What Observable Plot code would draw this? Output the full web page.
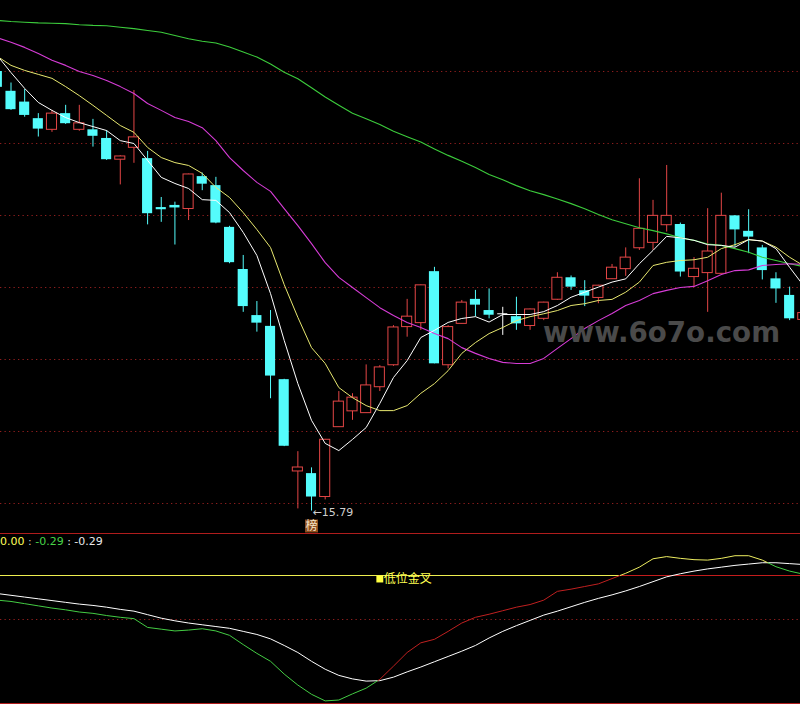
<!DOCTYPE html>
<html><head><meta charset="utf-8">
<script src="https://cdn.jsdelivr.net/npm/d3@7"></script>
<script src="https://cdn.jsdelivr.net/npm/@observablehq/plot@0.6"></script>
<style>
html,body{margin:0;padding:0;background:#000;}
#wrap{position:relative;width:800px;height:704px;background:#000;overflow:hidden;}
#lower{border-top:1px solid #b01c1c;border-bottom:1px solid #b01c1c;height:169px;}
#readout{position:absolute;left:0;top:535px;font:11px "DejaVu Sans",sans-serif;line-height:13px;white-space:pre;color:#e8e8e8;}
#wm{position:absolute;left:0;top:0;pointer-events:none;}
svg{display:block;}
</style></head>
<body><div id="wrap"><div id="main"></div><div id="lower"></div>
<div id="readout"><span style="color:#ffff58">0.00</span><span style="color:#c8c8c8"> : </span><span style="color:#48d448">-0.29</span><span style="color:#e8e8e8"> : -0.29</span></div>
<svg id="wm" width="800" height="704"><text x="543" y="342" font-family="DejaVu Sans" font-weight="bold" font-size="28" fill="#4a4a4a" textLength="237" lengthAdjust="spacingAndGlyphs">www.6o7o.com</text></svg>
</div>
<script>
// ---- price data (one entry per trading day) ----
const open  = [28.00,27.45,27.15,26.69,26.38,26.83,26.38,26.38,26.14,25.55,
               25.88,25.58,24.22,24.28,24.18,25.08,24.83,23.67,22.50,21.22,
               20.92,19.44,16.89,16.83,16.18,18.12,18.56,18.51,19.23,19.84,
               20.90,21.01,22.44,19.84,20.99,21.67,21.36,21.27,21.19,20.93,
               21.13,21.66,22.27,21.91,21.71,22.23,22.51,23.09,23.24,23.73,
               23.75,22.29,22.40,22.38,23.99,23.56,23.10,22.24,21.78,21.10];
const high  = [28.14,27.68,27.50,26.83,26.92,27.06,27.06,26.67,26.36,25.66,
               27.47,25.78,24.50,24.37,25.15,25.18,25.06,23.70,22.89,21.61,
               21.36,19.45,17.44,16.99,17.78,19.11,19.05,19.85,19.83,20.94,
               21.67,22.07,22.56,20.94,21.64,21.92,21.96,21.45,21.73,21.40,
               21.59,22.41,22.32,22.19,22.06,22.64,23.10,25.02,24.42,25.39,
               23.79,22.83,24.19,24.62,24.00,24.16,23.17,22.41,22.01,21.30];
const low   = [27.53,26.92,26.73,26.18,26.31,26.53,26.34,25.90,25.53,24.85,
               25.45,23.74,23.81,23.18,23.86,24.69,23.77,22.66,21.31,20.76,
               18.91,17.58,15.85,15.79,16.10,18.12,18.31,18.51,19.11,19.81,
               20.62,20.81,19.88,19.74,20.99,21.18,21.13,20.67,20.81,20.81,
               21.08,21.64,21.92,21.47,21.55,22.23,22.31,23.03,23.03,23.54,
               22.29,22.01,21.31,22.38,23.12,22.94,22.21,21.56,21.08,21.08];
const close = [27.56,26.94,26.78,26.40,26.83,26.55,26.56,26.20,25.55,25.64,
               26.17,24.05,24.16,24.21,25.14,24.87,23.79,22.69,21.47,21.01,
               19.54,17.59,17.00,16.18,17.77,18.83,18.94,19.28,19.78,20.89,
               21.19,22.06,19.88,20.90,21.58,21.51,21.23,21.27,20.99,21.39,
               21.58,22.27,22.01,21.76,22.05,22.55,22.83,23.63,23.99,23.99,
               22.43,22.52,23.00,23.99,23.60,23.40,22.47,21.96,21.13,21.29];
// ---- moving averages ----
const ma5  = [28.44,27.97,27.53,27.14,26.92,26.72,26.58,26.47,26.36,26.08,
              26.00,25.53,25.06,24.89,24.75,24.44,24.42,24.08,23.53,22.89,
              21.83,20.53,19.33,18.31,17.67,17.47,17.78,18.11,18.78,19.50,
              19.97,20.61,20.81,21.03,21.14,21.19,21.04,21.25,21.25,21.25,
              21.33,21.50,21.73,21.87,22.01,22.15,22.24,22.66,23.03,23.42,
              23.38,23.31,23.19,23.17,23.12,23.33,23.29,23.08,22.56,22.06];
const ma10 = [28.42,28.17,28.03,27.92,27.81,27.58,27.33,27.06,26.78,26.50,
              26.31,25.89,25.61,25.47,25.39,25.17,24.78,24.50,24.08,23.61,
              23.11,22.08,21.17,20.33,19.89,19.22,18.94,18.72,18.58,18.58,
              18.72,19.06,19.33,19.69,20.17,20.47,20.72,20.89,21.08,21.19,
              21.27,21.36,21.50,21.55,21.64,21.67,21.87,22.15,22.61,22.70,
              22.75,22.77,22.84,23.08,23.19,23.33,23.29,23.12,22.84,22.61];
const ma20 = [28.94,28.81,28.67,28.50,28.31,28.17,28.00,27.89,27.75,27.58,
              27.39,27.11,26.92,26.72,26.61,26.44,26.08,25.61,25.25,24.92,
              24.67,24.19,23.72,23.22,22.69,22.28,22.00,21.72,21.44,21.22,
              21.03,20.89,20.72,20.58,20.33,20.17,20.03,19.92,19.89,19.89,
              20.03,20.31,20.58,20.86,21.08,21.28,21.50,21.64,21.83,21.92,
              22.00,22.03,22.19,22.36,22.47,22.49,22.61,22.64,22.66,22.64];
const ma60 = [29.42,29.39,29.37,29.35,29.34,29.33,29.30,29.28,29.27,29.23,
              29.19,29.14,29.09,29.00,28.91,28.84,28.79,28.68,28.54,28.40,
              28.21,27.98,27.80,27.55,27.29,27.06,26.84,26.69,26.53,26.34,
              26.19,26.04,25.85,25.67,25.51,25.33,25.14,24.99,24.83,24.69,
              24.58,24.46,24.33,24.19,24.03,23.88,23.77,23.66,23.58,23.49,
              23.38,23.31,23.21,23.17,23.08,22.98,22.84,22.75,22.66,22.58];
// ---- lower indicator ----
const sigWhite = [-0.41,-0.45,-0.49,-0.53,-0.57,-0.61,-0.65,-0.68,-0.72,-0.77,
                  -0.81,-0.89,-0.97,-1.03,-1.08,-1.12,-1.16,-1.20,-1.27,-1.34,
                  -1.44,-1.59,-1.75,-1.95,-2.13,-2.27,-2.35,-2.40,-2.39,-2.31,
                  -2.19,-2.08,-1.96,-1.84,-1.72,-1.59,-1.42,-1.27,-1.14,-1.02,
                  -0.90,-0.81,-0.71,-0.61,-0.52,-0.44,-0.35,-0.25,-0.14,-0.03,
                   0.04, 0.10, 0.15, 0.19, 0.23, 0.26, 0.29, 0.29, 0.27, 0.25];
const sigLine  = [-0.56,-0.59,-0.64,-0.69,-0.74,-0.78,-0.83,-0.86,-0.91,-0.95,
                  -0.98,-1.18,-1.22,-1.26,-1.24,-1.21,-1.26,-1.36,-1.57,-1.77,
                  -1.95,-2.24,-2.49,-2.70,-2.85,-2.83,-2.69,-2.56,-2.36,-2.06,
                  -1.75,-1.53,-1.45,-1.27,-1.08,-0.95,-0.88,-0.80,-0.72,-0.66,
                  -0.56,-0.36,-0.31,-0.25,-0.19,-0.07, 0.05, 0.19, 0.38, 0.43,
                   0.39, 0.36, 0.35, 0.39, 0.45, 0.45, 0.35, 0.20, 0.10, 0.03];
const priceGrid = [16, 18, 20, 22, 24, 26, 28];
const lowerGrid = [-1];
const crossLabel = "低位金叉";

// ---- scales / styles ----
const xDomain = [0.2313, 58.796];
const yDomain = [15.1667, 29.9722];
const lowDomain = [-2.909, 0.932];
const CYAN = "#54fcfc", RED = "#e44646", GRID = "#8e1e1e";
const half = 0.37;

const bars = open.map((o, i) => ({i, o, h: high[i], l: low[i], c: close[i],
  m5: ma5[i], m10: ma10[i], m20: ma20[i], m60: ma60[i], w: sigWhite[i], s: sigLine[i]}));
const upBars = bars.filter(d => d.c > d.o);
const downBars = bars.filter(d => d.c < d.o);
const flatBars = bars.filter(d => d.c === d.o);
const lowBar = bars.reduce((a, b) => b.l < a.l ? b : a);
const bx1 = d => d.i - half, bx2 = d => d.i + half;

const main = Plot.plot({
  width: 800, height: 533, margin: 0,
  style: {background: "#000", fontFamily: "DejaVu Sans"},
  x: {domain: xDomain, axis: null},
  y: {domain: yDomain, axis: null},
  marks: [
    Plot.ruleY(priceGrid, {stroke: GRID, strokeDasharray: "1.3,3.2"}),
    Plot.ruleX(downBars, {x: "i", y1: "l", y2: "h", stroke: CYAN}),
    Plot.rect(downBars, {x1: bx1, x2: bx2, y1: "o", y2: "c", fill: CYAN}),
    Plot.ruleX(upBars, {x: "i", y1: "l", y2: "h", stroke: RED}),
    Plot.rect(upBars, {x1: bx1, x2: bx2, y1: "o", y2: "c", fill: "#000", stroke: RED}),
    Plot.ruleX(flatBars, {x: "i", y1: "l", y2: "h", stroke: "#ffffff"}),
    Plot.ruleY(flatBars, {y: "o", x1: bx1, x2: bx2, stroke: "#ffffff"}),
    Plot.line(bars, {x: "i", y: "m60", stroke: "#3ccc3c", strokeWidth: 1.1}),
    Plot.line(bars, {x: "i", y: "m20", stroke: "#d63cd6", strokeWidth: 1.1}),
    Plot.line(bars, {x: "i", y: "m10", stroke: "#e8e870", strokeWidth: 1}),
    Plot.line(bars, {x: "i", y: "m5", stroke: "#ffffff", strokeWidth: 1}),
    Plot.text([lowBar], {x: "i", y: "l", text: d => "←" + d.l.toFixed(2), textAnchor: "start",
      dx: 1, dy: 1, fill: "#cfcfcf", fontSize: 11, fontFamily: "DejaVu Sans"}),
    Plot.dot([lowBar], {x: "i", y: () => yDomain[0], dy: -7.5, symbol: "square", r: 7.3, fill: "#8e4e1e"}),
    Plot.text([lowBar], {x: "i", y: () => yDomain[0], dy: -7.5, text: () => "榜", fill: "#f6e6c8",
      fontSize: 12, fontFamily: "Noto Sans CJK SC"})
  ]
});
document.getElementById("main").appendChild(main);

// ---- lower panel helpers (derived from data) ----
function stateColor(v, w) { return v < w ? "#44cc44" : (v < 0 ? "#c02020" : "#eeee60"); }
const segs = [];
for (let i = 0; i < bars.length - 1; i++) {
  const a = bars[i], b = bars[i + 1];
  const ts = [0, 1];
  const d0 = a.s - a.w, d1 = b.s - b.w;
  if (d0 * d1 < 0) ts.push(d0 / (d0 - d1));
  if (a.s * b.s < 0) ts.push(a.s / (a.s - b.s));
  ts.sort((p, q) => p - q);
  for (let k = 0; k < ts.length - 1; k++) {
    const t0 = ts[k], t1 = ts[k + 1];
    if (t1 - t0 < 1e-9) continue;
    const tm = (t0 + t1) / 2;
    const vm = a.s + (b.s - a.s) * tm, wm = a.w + (b.w - a.w) * tm;
    segs.push({x1: a.i + t0, x2: a.i + t1, y1: a.s + (b.s - a.s) * t0, y2: a.s + (b.s - a.s) * t1,
      color: stateColor(vm, wm)});
  }
}
let zeroCross = xDomain[1];
for (let i = 1; i < bars.length; i++) {
  if (bars[i - 1].s < 0 && bars[i].s >= 0) { zeroCross = bars[i - 1].i + bars[i - 1].s / (bars[i - 1].s - bars[i].s); break; }
}
let crossBar = null;
for (let i = 1; i < bars.length; i++) {
  if (bars[i - 1].s < bars[i - 1].w && bars[i].s >= bars[i].w) { crossBar = bars[i]; break; }
}

const lower = Plot.plot({
  width: 800, height: 169, margin: 0,
  style: {background: "#000", fontFamily: "DejaVu Sans"},
  x: {domain: xDomain, axis: null},
  y: {domain: lowDomain, axis: null},
  marks: [
    Plot.ruleY(lowerGrid, {stroke: GRID, strokeDasharray: "1.3,3.2"}),
    Plot.ruleY([0], {x1: () => xDomain[0], x2: () => zeroCross, stroke: "#eeee50"}),
    Plot.ruleY([0], {x1: () => zeroCross, x2: () => xDomain[1], stroke: "#c41c1c"}),
    Plot.line(bars, {x: "i", y: "w", stroke: "#ffffff", strokeWidth: 1}),
    Plot.link(segs, {x1: "x1", y1: "y1", x2: "x2", y2: "y2", stroke: "color", strokeWidth: 1}),
    Plot.dot([crossBar], {x: "i", y: () => 0, dy: 3.5, symbol: "square", r: 3.9, fill: "#ffff40"}),
    Plot.text([crossBar], {x: "i", y: () => 0, dx: 4, dy: 4, text: () => crossLabel, textAnchor: "start",
      fill: "#ffff50", fontSize: 12, fontFamily: "Noto Sans CJK SC"})
  ]
});
document.getElementById("lower").appendChild(lower);
</script>
</body></html>
